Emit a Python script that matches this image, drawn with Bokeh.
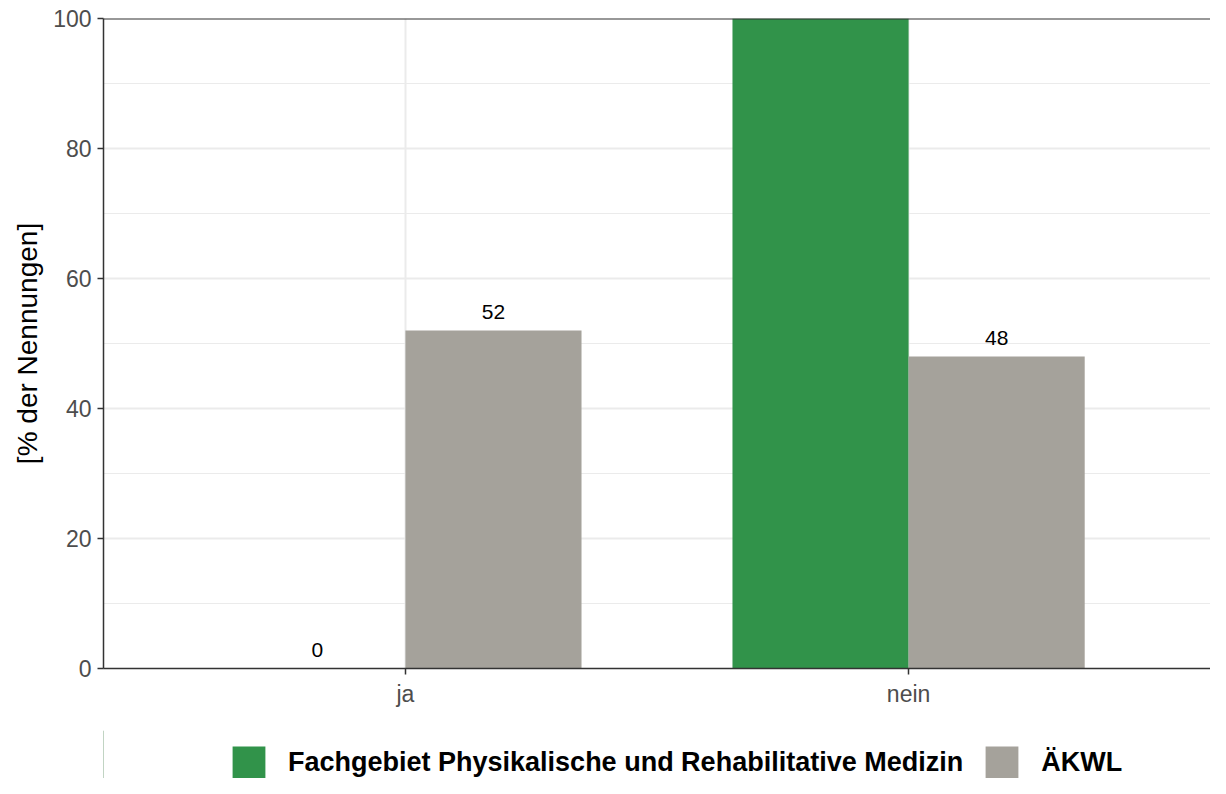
from bokeh.plotting import figure
from bokeh.layouts import column
from bokeh.models import (ColumnDataSource, Range1d, FixedTicker, Span, Legend,
                          LegendItem, LabelSet, Plot, VBar)
from bokeh.core.properties import value
from bokeh.embed import file_html
from bokeh.resources import INLINE

# ---- data ----
categories = ["ja", "nein"]
series_names = ["Fachgebiet Physikalische und Rehabilitative Medizin", "ÄKWL"]
fachgebiet = [0, 100]
aekwl = [52, 48]
colors = ["#31934A", "#A5A29B"]
y_ticks = [0, 20, 40, 60, 80, 100]

FONT = "Liberation Sans"
bar_w = 0.35

p = figure(width=1210, height=730, output_backend="svg", toolbar_location=None,
           x_range=Range1d(0.4, 2.6), y_range=Range1d(0, 100),
           min_border_left=103, min_border_top=18, min_border_right=0,
           min_border_bottom=62)
p.outline_line_color = None
p.background_fill_color = "white"

renderers = []
label_x, label_y, label_t = [], [], []
for k, (vals, col) in enumerate(zip([fachgebiet, aekwl], colors)):
    offs = (-0.5 + k) * bar_w
    xs = [i + 1 + offs for i in range(len(categories))]
    src = ColumnDataSource(dict(x=xs, top=vals))
    r = p.vbar(x="x", top="top", bottom=0, width=bar_w, source=src,
               fill_color=col, line_color=None)
    renderers.append(r)
    for x, v in zip(xs, vals):
        if v < 100:  # labels above the panel are clipped in the original
            label_x.append(x)
            label_y.append(v)
            label_t.append(str(v))

lab_src = ColumnDataSource(dict(x=label_x, y=label_y, t=label_t))
p.add_layout(LabelSet(x="x", y="y", text="t", source=lab_src,
                      text_align="center", text_baseline="bottom", y_offset=12,
                      text_font=value(FONT), text_font_size=value("21px"),
                      text_color="black"))

# top border line
p.add_layout(Span(location=100, dimension="width", line_color="#333333", line_width=2))

# axes
p.xaxis.ticker = FixedTicker(ticks=[i + 1 for i in range(len(categories))])
p.xaxis.major_label_overrides = {i + 1: c for i, c in enumerate(categories)}
p.yaxis.ticker = FixedTicker(ticks=y_ticks, minor_ticks=[10, 30, 50, 70, 90])
for ax in (p.xaxis, p.yaxis):
    ax.axis_line_color = "#333333"
    ax.axis_line_width = 1.5
    ax.major_tick_line_color = "#333333"
    ax.major_tick_line_width = 1.5
    ax.major_tick_out = 6
    ax.major_tick_in = 0
    ax.minor_tick_out = 0
    ax.minor_tick_in = 0
    ax.major_label_text_font = FONT
    ax.major_label_text_font_size = "23px"
    ax.major_label_text_color = "#4D4D4D"
    ax.major_label_standoff = 6
p.yaxis.axis_label = "[% der Nennungen]"
p.yaxis.axis_label_text_font = FONT
p.yaxis.axis_label_text_font_size = "28px"
p.yaxis.axis_label_text_font_style = "normal"
p.yaxis.axis_label_text_color = "black"
p.yaxis.axis_label_standoff = 7

# grids
p.xgrid.grid_line_color = "#EBEBEB"
p.xgrid.grid_line_width = 2
p.ygrid.grid_line_color = "#EBEBEB"
p.ygrid.grid_line_width = 2
p.ygrid.minor_grid_line_color = "#EBEBEB"
p.ygrid.minor_grid_line_width = 1

# legend strip (bare plot below the chart; its frame aligns with the chart's)
lf = Plot(width=1210, height=48, output_backend="svg", toolbar_location=None,
          x_range=Range1d(0, 1), y_range=Range1d(0, 1),
          min_border_left=0, min_border_right=0, min_border_top=0,
          min_border_bottom=0, outline_line_color=None)
key_renderers = []
for col in colors:
    # off-screen key glyphs, only used to draw the legend swatches
    ks = ColumnDataSource(dict(x=[-5], top=[1]))
    key_renderers.append(lf.add_glyph(ks, VBar(x="x", top="top", width=0.1,
                                               fill_color=col, line_color=None)))
items = [LegendItem(label=n, renderers=[r]) for n, r in zip(series_names, key_renderers)]
legend = Legend(items=items, orientation="horizontal", location=(125, -5),
                glyph_width=41, glyph_height=41, label_standoff=19, spacing=18,
                label_text_font=FONT, label_text_font_size="27px",
                label_text_font_style="bold", label_text_color="black",
                border_line_color=None, background_fill_alpha=0,
                padding=0, margin=0, label_height=41)
lf.add_layout(legend, "center")

layout = column(p, lf, spacing=0)
open("out.html", "w").write(file_html(layout, INLINE))
